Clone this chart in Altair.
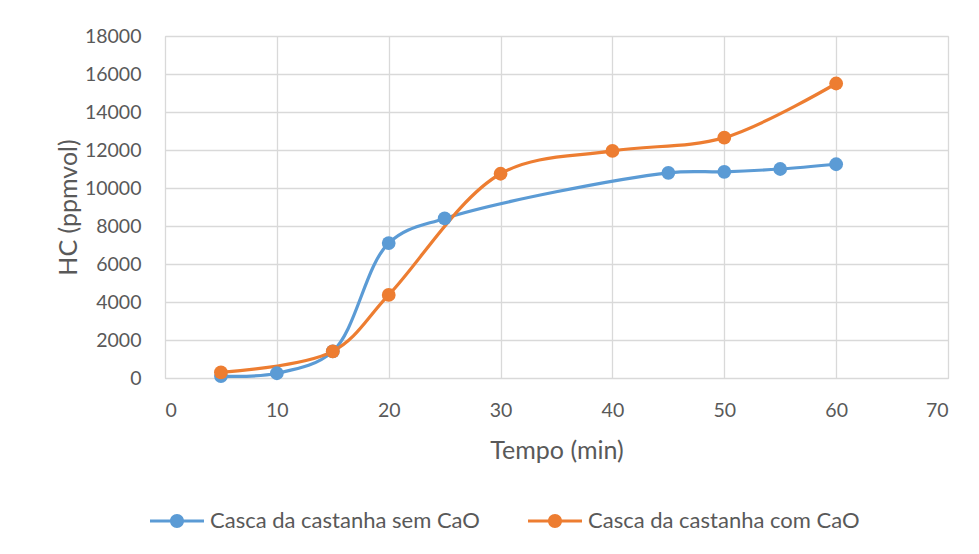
import altair as alt
import pandas as pd

series_a = "Casca da castanha sem CaO"
series_b = "Casca da castanha com CaO"

tempo_a = [5, 10, 15, 20, 25, 45, 50, 55, 60]
hc_a = [100, 250, 1400, 7100, 8400, 10800, 10850, 11000, 11250]

tempo_b = [5, 15, 20, 30, 40, 50, 60]
hc_b = [300, 1400, 4370, 10750, 11950, 12650, 15500]

colors = ["#5B9BD5", "#ED7D31"]

df = pd.concat([
    pd.DataFrame({"tempo": tempo_a, "hc": hc_a, "serie": series_a}),
    pd.DataFrame({"tempo": tempo_b, "hc": hc_b, "serie": series_b}),
])

FONT = "Lato"
TEXT = "#595959"

legend_symbol = (
    "M-2.7,-0.15 L2.7,-0.15 L2.7,0.15 L-2.7,0.15 Z "
    "M0.7,0 A0.7,0.7 0 1,1 -0.7,0 A0.7,0.7 0 1,1 0.7,0 Z"
)

color_scale = alt.Scale(domain=[series_a, series_b], range=colors)

color = alt.Color(
    "serie:N",
    scale=color_scale,
    legend=alt.Legend(
        title=None,
        orient="none",
        legendX=1,
        legendY=474,
        direction="horizontal",
        symbolType=legend_symbol,
        symbolSize=400,
        symbolStrokeWidth=0,
        symbolOpacity=1,
        labelFont=FONT,
        labelFontSize=22,
        labelColor=TEXT,
        labelOffset=22,
        labelLimit=0,
        columnPadding=48,
        padding=0,
    ),
)

x = alt.X(
    "tempo:Q",
    scale=alt.Scale(domain=[0, 70], nice=False),
    axis=alt.Axis(
        values=[0, 10, 20, 30, 40, 50, 60, 70],
        title="Tempo (min)",
        titleFont=FONT,
        titleFontSize=25,
        titleFontWeight="normal",
        titleColor=TEXT,
        titlePadding=19,
        labelFont=FONT,
        labelFontSize=19.5,
        labelColor=TEXT,
        labelPadding=23,
        labelOverlap=False,
        ticks=False,
        domainColor="#d9d9d9",
        gridColor="#d9d9d9",
        gridWidth=1.3,
    ),
)
y = alt.Y(
    "hc:Q",
    scale=alt.Scale(domain=[0, 18000], nice=False),
    axis=alt.Axis(
        values=list(range(0, 18001, 2000)),
        format="d",
        title="HC (ppmvol)",
        titleFont=FONT,
        titleFontSize=25,
        titleFontWeight="normal",
        titleColor=TEXT,
        titlePadding=3,
        labelFont=FONT,
        labelFontSize=19.5,
        labelColor=TEXT,
        labelPadding=24,
        labelOverlap=False,
        ticks=False,
        domainColor="#d9d9d9",
        gridColor="#d9d9d9",
        gridWidth=1.3,
    ),
)

base = alt.Chart(df)
lines = base.mark_line(interpolate="catmull-rom", strokeWidth=3.2).encode(
    x=x, y=y, color=color, detail="serie:N"
)
points = base.mark_point(filled=True, size=190, opacity=1).encode(
    x=x, y=y, color=alt.Color("serie:N", legend=None, scale=color_scale)
)

chart = (
    alt.layer(lines, points)
    .properties(
        width=783,
        height=342,
        autosize=alt.AutoSizeParams(type="none"),
        padding={"left": 157, "top": 28, "right": 23, "bottom": 168},
    )
    .configure_view(stroke=None)
    .configure(background="white")
)

chart.save("out.html", embed_options={"renderer": "svg", "actions": False})
